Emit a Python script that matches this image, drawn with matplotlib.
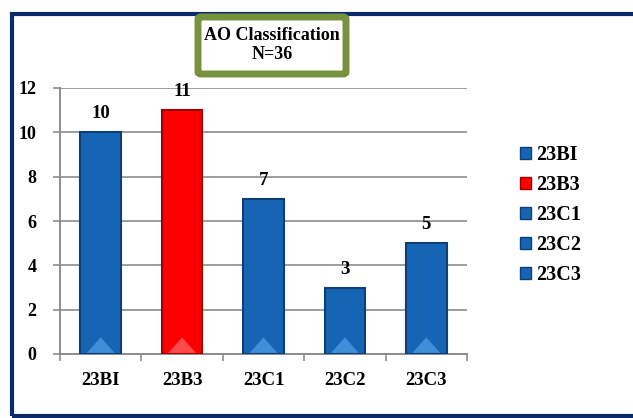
import matplotlib.pyplot as plt
from matplotlib.patches import Rectangle, FancyBboxPatch
import numpy as np

categories = ["23BI", "23B3", "23C1", "23C2", "23C3"]
counts = [10, 11, 7, 3, 5]
colors = ["#1565b4", "#ff0000", "#1565b4", "#1565b4", "#1565b4"]
edges = ["#0c3f78", "#a00000", "#0c3f78", "#0c3f78", "#0c3f78"]
tops = ["#3f8fd8", "#ff4a4a", "#3f8fd8", "#3f8fd8", "#3f8fd8"]

plt.rcParams['font.family'] = ['Liberation Serif', 'DejaVu Serif']
plt.rcParams['font.weight'] = 'bold'

fig = plt.figure(figsize=(6.33, 4.18), dpi=100)
ax = fig.add_axes([60/633, 1-354/418, 407/633, 266/418])

x = np.arange(len(categories))
bars = ax.bar(x, counts, width=0.5, color=colors, edgecolor=edges, linewidth=1.5, zorder=3)
# light triangle at the base of each bar
for b, c in zip(bars, tops):
    cx = b.get_x() + b.get_width()/2
    ax.fill([cx - 0.17, cx, cx + 0.17], [0.05, 0.75, 0.05], color=c, zorder=4, lw=0)
for b, v in zip(bars, counts):
    ax.text(b.get_x() + b.get_width()/2, v + 0.45, str(v), ha='center', va='bottom',
            fontsize=13.5, fontweight='bold')

ax.set_xlim(-0.5, len(categories) - 0.5)
ax.set_ylim(0, 12)
ax.set_yticks(range(0, 13, 2))
ax.set_xticks(x)
ax.set_xticklabels(categories, fontsize=13.5, fontweight='bold')
ax.tick_params(axis='x', length=0, pad=13)
ax.set_xticks(np.arange(-0.5, len(categories)), minor=True)
ax.tick_params(axis='x', which='minor', length=5, color='#8c8c8c', width=1.2)
ax.tick_params(axis='y', labelsize=13, length=5, color='#8c8c8c', width=1.2, pad=12)
for lab in ax.get_yticklabels():
    lab.set_fontweight('bold')
ax.grid(axis='y', color='#8c8c8c', linewidth=1.2, zorder=0)
for s in ['top', 'right']:
    ax.spines[s].set_visible(False)
for s in ['left', 'bottom']:
    ax.spines[s].set_color('#8c8c8c')
    ax.spines[s].set_linewidth(1.4)

# legend
handles = [Rectangle((0, 0), 1, 1, facecolor=c, edgecolor=e) for c, e in zip(colors, edges)]
fig.legend(handles, categories, loc='upper left', bbox_to_anchor=(502/633, 1-127/418),
           frameon=False, handlelength=0.55, handleheight=0.55,
           handletextpad=0.25, labelspacing=0.5, prop={'weight': 'bold', 'size': 14.5})

# outer border
fig.patches.append(Rectangle((12/633, 2/418), 1.0, 1-16/418, transform=fig.transFigure,
                             fill=False, edgecolor='#0b2a6b', linewidth=3))

# title box
fig.patches.append(FancyBboxPatch((198/633, 1-74/418), 148/633, 57/418,
                                  boxstyle='round,pad=0,rounding_size=0.005',
                                  transform=fig.transFigure, facecolor='white',
                                  edgecolor='#76923c', linewidth=5))
fig.text(272/633, 1-45/418, "AO Classification\nN=36", ha='center', va='center',
         fontsize=13, fontweight='bold', linespacing=1.1)

fig.savefig("out.png", dpi=100)
